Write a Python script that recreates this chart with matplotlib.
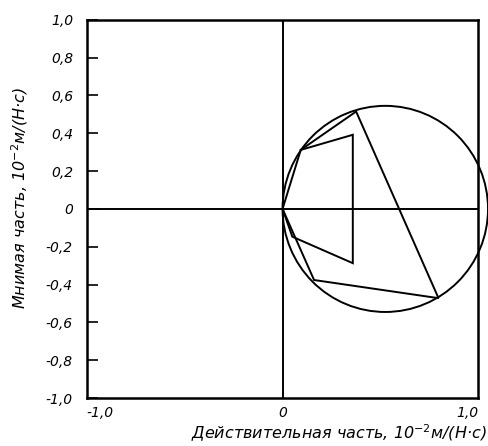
import matplotlib.pyplot as plt
from matplotlib.patches import Ellipse

outer_re = [0.0, 0.093, 0.376, 0.797, 0.161, 0.0]
outer_im = [0.0, 0.312, 0.515, -0.472, -0.376, 0.0]
inner_re = [0.0, 0.05, 0.359, 0.359, 0.093]
inner_im = [0.0, -0.147, -0.287, 0.392, 0.312]

circle_centre = (0.525, 0.0)
circle_diam = (1.05, 1.09)

y_ticks = [-1.0, -0.8, -0.6, -0.4, -0.2, 0.0, 0.2, 0.4, 0.6, 0.8, 1.0]
y_labels = ['-1,0', '-0,8', '-0,6', '-0,4', '-0,2', '0', '0,2', '0,4', '0,6', '0,8', '1,0']
x_ticks = [-1.0, 0.0, 1.0]
x_labels = ['-1,0', '0', '1,0']

fig = plt.figure(figsize=(4.88, 4.46), dpi=100)
ax = fig.add_axes([0.178, 0.1076, 0.802, 0.848])

lw = 1.4
ax.axhline(0, color='black', lw=lw)
ax.axvline(0, color='black', lw=lw)
ax.plot(outer_re, outer_im, color='black', lw=lw, solid_joinstyle='miter')
ax.plot(inner_re, inner_im, color='black', lw=lw, solid_joinstyle='miter')
ax.add_patch(Ellipse(circle_centre, circle_diam[0], circle_diam[1], fill=False,
                     ec='black', lw=lw, clip_on=False))

ax.set_xlim(-1, 1)
ax.set_ylim(-1, 1)
for s in ax.spines.values():
    s.set_linewidth(1.8)

ax.set_yticks(y_ticks)
ax.set_yticklabels(y_labels, fontstyle='italic', fontsize=10)
ax.tick_params(axis='y', direction='in', length=8, width=1.2, pad=10)
ax.set_xticks(x_ticks)
ax.set_xticklabels(x_labels, fontstyle='italic', fontsize=10)
ax.tick_params(axis='x', length=0, pad=6)
xl = ax.get_xticklabels()
xl[0].set_ha('left')
xl[2].set_ha('right')

ax.set_xlabel('Действительная часть, 10$^{-2}$м/(Н·с)', fontstyle='italic',
              fontsize=11.5, labelpad=0)
ax.xaxis.set_label_coords(0.645, -0.065)
ax.set_ylabel('Мнимая часть, 10$^{-2}$м/(Н·с)', fontstyle='italic', fontsize=11.5)
ax.yaxis.set_label_coords(-0.145, 0.53)

fig.savefig('out.png', dpi=100)
